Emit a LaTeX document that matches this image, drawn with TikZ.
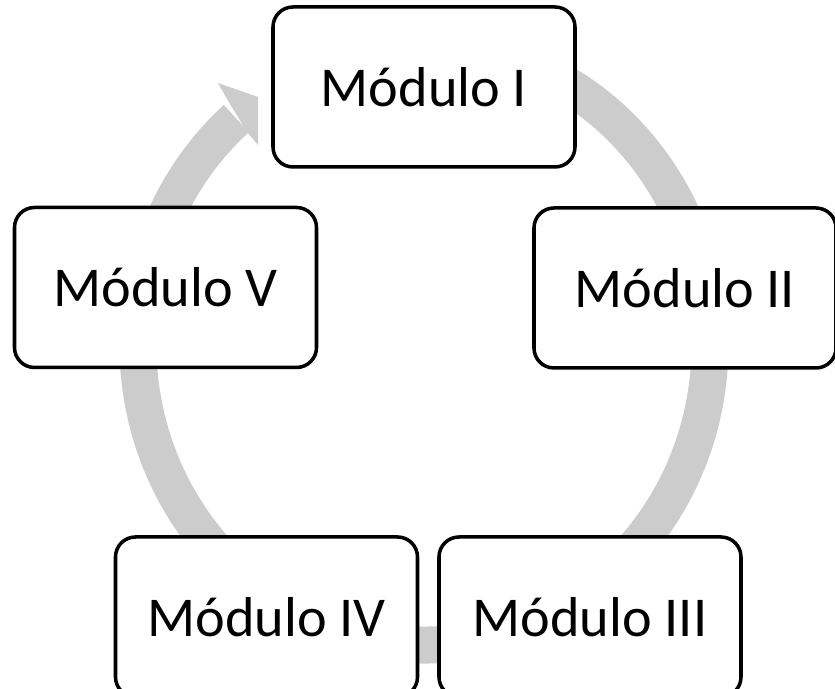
\documentclass[tikz,border=0pt]{standalone}
\usepackage{fontspec}
\setmainfont{Carlito}
\definecolor{ringgray}{RGB}{204,204,204}
\tikzset{
    modbox/.style={draw=black, line width=2pt, fill=white,
        rounded corners=0.4cm, minimum width=6.04cm, minimum height=3.2cm,
        font=\fontsize{32}{38}\selectfont},
    ring/.style={draw=ringgray, line width=0.74cm}
}
\begin{document}
\begin{tikzpicture}
            \useasboundingbox (0,0) rectangle (16.7,13.78);
            \coordinate (c) at (8.48,6.88);

            % the cycle, under the boxes
            \draw[ring] ([shift={(80:5.72cm and 6cm)}]c)
                arc[start angle=80, end angle=-229,
                    x radius=5.72cm, y radius=6cm];
            \fill[ringgray] (4.54,11.8) -- (4.36,12.12) -- (5.16,11.84)
                -- (5.16,10.88) -- (4.94,11.14) -- cycle;

            \foreach \n/\p/\t in {
                m1/{8.48,12.04}/I, m2/{13.7,8.02}/II, m3/{11.8,1.44}/III,
                m4/{5.33,1.44}/IV, m5/{3.31,8.03}/V%
            } {
                \node[modbox] (\n) at (\p) {Módulo \t};
            }
        \end{tikzpicture}
\end{document}
